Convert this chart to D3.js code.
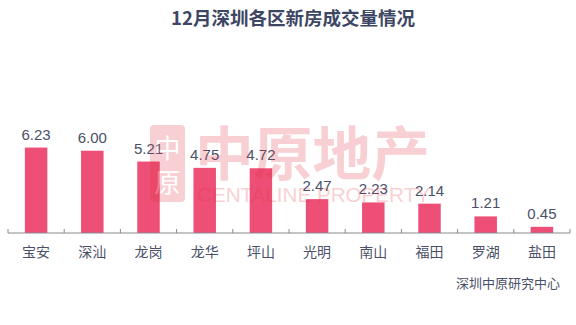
<!DOCTYPE html>
<html lang="zh">
<head>
<meta charset="UTF-8">
<title>12月深圳各区新房成交量情况</title>
<style>
  body { margin: 0; background: #fff; font-family: "Noto Sans CJK SC", "Liberation Sans", sans-serif; }
  svg { display: block; }
</style>
</head>
<body>
<svg id="chart" width="576" height="325"></svg>
<script src="https://cdn.jsdelivr.net/npm/d3@7/dist/d3.min.js"></script>
<script>
const districts = ["宝安", "深汕", "龙岗", "龙华", "坪山", "光明", "南山", "福田", "罗湖", "盐田"];
const volumes = [6.23, 6.00, 5.21, 4.75, 4.72, 2.47, 2.23, 2.14, 1.21, 0.45];
const volumeLabels = ["6.23", "6.00", "5.21", "4.75", "4.72", "2.47", "2.23", "2.14", "1.21", "0.45"];

const svg = d3.select("#chart");
const textColor = "#4a5068";

const x = d3.scaleBand().domain(districts).range([8, 570]).paddingInner(0.6).paddingOuter(0.3);
const y = d3.scaleLinear().domain([0, 7]).range([233, 137]);

// title
svg.append("text")
  .attr("x", 293).attr("y", 25)
  .attr("text-anchor", "middle")
  .attr("font-size", 18.5).attr("font-weight", "bold")
  .attr("fill", "#3d4663")
  .text("12月深圳各区新房成交量情况");

// bars
svg.append("g").selectAll("rect")
  .data(volumes)
  .join("rect")
  .attr("x", (d, i) => x(districts[i]))
  .attr("y", d => y(d))
  .attr("width", x.bandwidth())
  .attr("height", d => y(0) - y(d))
  .attr("fill", "#ee4f76");

// value labels
svg.append("g").selectAll("text")
  .data(volumes)
  .join("text")
  .attr("x", (d, i) => x(districts[i]) + x.bandwidth() / 2)
  .attr("y", d => y(d) - 8)
  .attr("text-anchor", "middle")
  .attr("font-family", "Liberation Sans, Arial, sans-serif")
  .attr("font-size", 15)
  .attr("fill", textColor)
  .text((d, i) => volumeLabels[i]);

// axis
const axisBand = d3.scaleBand().domain(districts).range([8, 570]);
const axis = svg.append("g").attr("transform", "translate(0,233)");
axis.append("line").attr("x1", 8).attr("x2", 570).attr("stroke", "#8a8a8a");
axis.selectAll("line.tick")
  .data(districts.concat(["end"]))
  .join("line")
  .attr("class", "tick")
  .attr("x1", (d, i) => i < districts.length ? axisBand(d) : 570)
  .attr("x2", (d, i) => i < districts.length ? axisBand(d) : 570)
  .attr("y1", 0).attr("y2", -4)
  .attr("stroke", "#8a8a8a");
axis.selectAll("text")
  .data(districts)
  .join("text")
  .attr("x", d => axisBand(d) + axisBand.bandwidth() / 2)
  .attr("y", 24)
  .attr("text-anchor", "middle")
  .attr("font-size", 14)
  .attr("fill", textColor)
  .text(d => d);

// source
svg.append("text")
  .attr("x", 560).attr("y", 288)
  .attr("text-anchor", "end")
  .attr("font-size", 13)
  .attr("fill", textColor)
  .text("深圳中原研究中心");

// watermark
const wm = svg.append("g").attr("fill", "#e0303f").attr("opacity", 0.22);
wm.append("rect").attr("x", 150).attr("y", 125).attr("width", 35).attr("height", 77).attr("rx", 4);
wm.append("text").attr("x", 167.5).attr("y", 158).attr("text-anchor", "middle")
  .attr("font-size", 26).attr("fill", "#fff").text("中");
wm.append("text").attr("x", 167.5).attr("y", 192).attr("text-anchor", "middle")
  .attr("font-size", 26).attr("fill", "#fff").text("原");
wm.append("text").attr("x", 195).attr("y", 175)
  .attr("font-size", 58).attr("font-weight", "bold")
  .attr("textLength", 235).attr("lengthAdjust", "spacingAndGlyphs")
  .text("中原地产");
wm.append("text").attr("x", 197).attr("y", 202)
  .attr("font-family", "Liberation Sans, Arial, sans-serif")
  .attr("font-size", 21)
  .attr("textLength", 233).attr("lengthAdjust", "spacingAndGlyphs")
  .text("CENTALINE PROPERTY");
</script>
</body>
</html>
